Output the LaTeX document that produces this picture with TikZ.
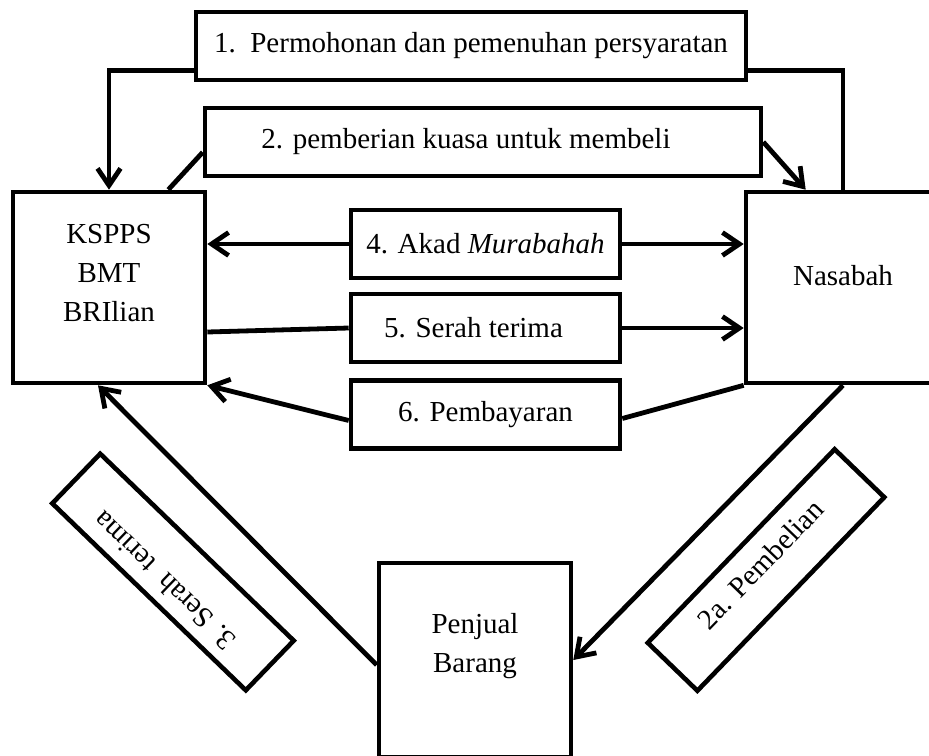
\documentclass[tikz,border=0pt]{standalone}
\usepackage{fontspec}
\setmainfont{Liberation Serif}
\usetikzlibrary{arrows.meta}

\begin{document}
\begin{tikzpicture}[x=0.5pt,y=-0.5pt,
    line width=2.4pt,
    >={Straight Barb[length=8.5pt,width=11.5pt]},
    every node/.style={font=\fontsize{14.5}{19.5}\selectfont},
    box/.style={draw,line width=2.3pt,minimum height=34pt,inner sep=0pt},
    bigbox/.style={draw,line width=2.3pt,minimum width=96pt,minimum height=95.5pt,inner sep=0pt},
    tilted/.style={draw,line width=2.3pt,minimum width=134.5pt,minimum height=34.5pt,inner sep=0pt,text height=10pt}]
  \useasboundingbox (0,0) rectangle (929,755);
  \clip (0,0) rectangle (929,755);

  % boxes
  \node (perm)    [box,minimum width=275pt]   at (471,46)    {1.~~Permohonan dan pemenuhan persyaratan};
  \node (kuasa)   [box,minimum width=278pt]   at (483,142)   {2. pemberian kuasa untuk membeli\hspace*{17pt}};
  \node (kspps)   [bigbox]                    at (109,287.5) {};
  \node (nasabah) [bigbox,minimum width=97pt] at (843,287.5) {};
  \node (akad)    [box,minimum width=134.5pt] at (485.5,244) {4. Akad \textit{Murabahah}};
  \node (serah)   [box,minimum width=134.5pt] at (485.5,328) {5. Serah terima\hspace*{12pt}};
  \node (bayar)   [box,minimum width=134.5pt] at (485.5,414.5) {6. Pembayaran};
  \node (penjual) [bigbox,minimum height=97pt] at (475,660)  {};
  \node (terima)  [tilted,rotate=136,text depth=13pt] at (173,572) {3. Serah~~terima};
  \node (beli)    [tilted,rotate=46,text depth=8pt]   at (766,570) {2a. Pembelian};

  % texts of the big boxes
  \node (ksppstext)   [align=center] at ([yshift=7pt]kspps.center)   {KSPPS\\BMT\\BRIlian};
  \node (nasabahtext) [align=center] at ([yshift=6pt]nasabah.center) {Nasabah};
  \node (penjualtext) [align=center] at ([yshift=7pt]penjual.center) {Penjual\\Barang};

  % connectors
  \draw [->] ([yshift=6pt]perm.south west) -| (kspps.north);
  \draw      ([yshift=6pt]perm.south east) -| (nasabah.north);
  \draw      ([yshift=13pt]kuasa.south west) -- ([xshift=-19.5pt]kspps.north east);
  \draw [->] (kuasa.east) -- ([xshift=31pt]nasabah.north west);
  \draw [->] (akad.west) -- (akad.west -| kspps.east);
  \draw [->] (akad.east) -- (akad.east -| nasabah.west);
  \draw      ([yshift=-2pt]serah.west -| kspps.east) -- (serah.west);
  \draw [->] (serah.east) -- (serah.east -| nasabah.west);
  \draw [->] ([yshift=-3pt]bayar.west) -- (kspps.south east);
  \draw      (nasabah.south west) -- ([yshift=-2pt]bayar.east);
  \draw [->] (nasabah.south) -- (penjual.east);
  \draw [->] ([yshift=-2.5pt]penjual.west) -- ([xshift=-5.5pt]kspps.south);
\end{tikzpicture}
\end{document}
